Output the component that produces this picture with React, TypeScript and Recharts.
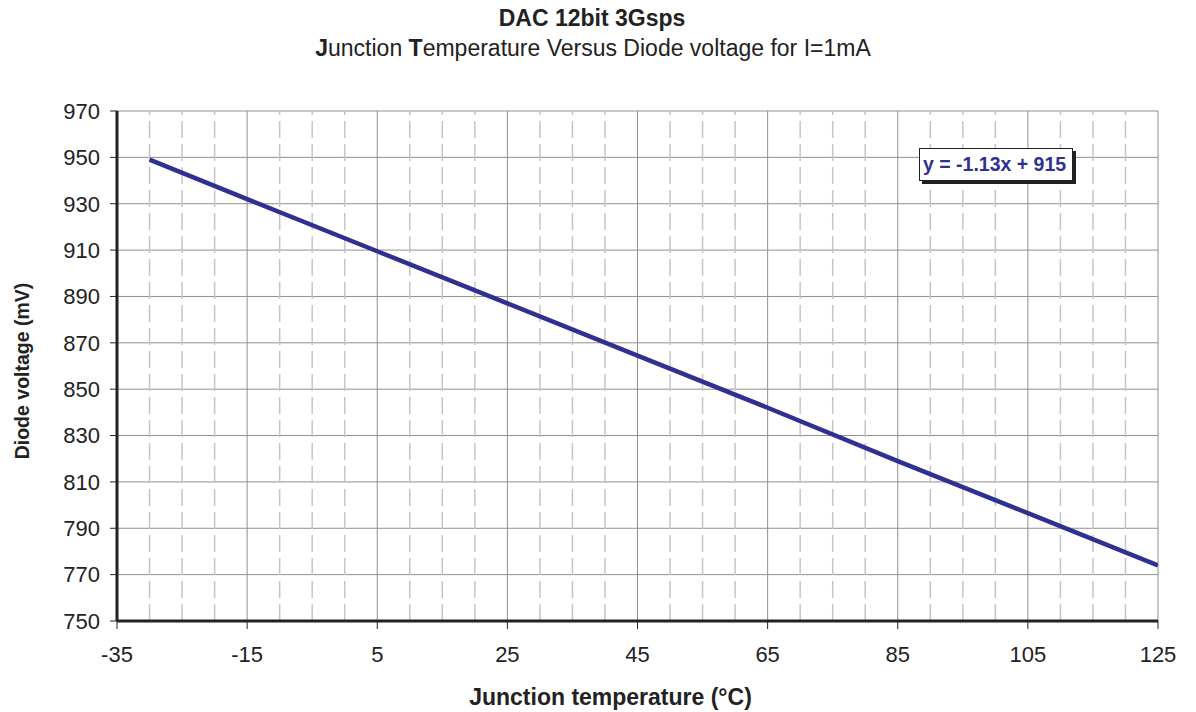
import React from "react"
import { LineChart, Line, XAxis, YAxis, CartesianGrid, ReferenceLine } from "recharts"

// readings: junction temperature (°C) vs diode voltage (mV)
const temps = [-30, -15, 5, 25, 45, 65, 85, 105, 125]
const voltages = [949, 932, 909.5, 887, 864.5, 842, 819, 796.5, 774]

const xTicks = [-35, -15, 5, 25, 45, 65, 85, 105, 125]
const xMinor = [-30, -25, -20, -10, -5, 0, 10, 15, 20, 30, 35, 40, 50, 55, 60, 70, 75, 80, 90, 95, 100, 110, 115, 120]
const yTicks = [750, 770, 790, 810, 830, 850, 870, 890, 910, 930, 950, 970]

const data = temps.map((t, i) => ({ t, v: voltages[i] }))

const FONT = "'Liberation Sans', Arial, sans-serif"
const BLUE = "#2e3192"

export default function App() {
  return (
    <div style={{ position: "absolute", left: 0, top: 0, width: 1196, height: 712, background: "#fff", fontFamily: FONT }}>
      <div style={{ position: "absolute", top: 5, width: 1184, textAlign: "center", fontSize: 23, fontWeight: "bold", color: "#222", lineHeight: "26px" }}>
        DAC 12bit 3Gsps
      </div>
      <div style={{ position: "absolute", top: 35, width: 1186, textAlign: "center", fontSize: 23, color: "#222", lineHeight: "26px" }}>
        <b>J</b>unction <b>T</b>emperature Versus Diode voltage for I=1mA
      </div>

      <LineChart width={1196} height={712} data={data} margin={{ top: 111, right: 38, bottom: 0, left: 0 }}>
        <CartesianGrid stroke="#8f8f8f" strokeWidth={1} vertical={true} horizontal={true} />
        {xMinor.map((x) => (
          <ReferenceLine key={x} x={x} stroke="#c4c4ce" strokeWidth={1.5} strokeDasharray="17 6" />
        ))}
        <XAxis
          dataKey="t"
          type="number"
          domain={[-35, 125]}
          ticks={xTicks}
          allowDataOverflow
          height={91}
          stroke="#222"
          axisLine={{ stroke: "#222", strokeWidth: 3 }}
          tickLine={{ stroke: "#222", strokeWidth: 1 }}
          tickSize={8}
          tickMargin={17}
          tick={{ fontSize: 22, fill: "#222", fontFamily: FONT }}
          label={{ value: "Junction temperature (°C)", position: "insideBottom", offset: 7, dx: -27, fontSize: 23, fontWeight: "bold", fill: "#222", fontFamily: FONT }}
        />
        <XAxis xAxisId="top" orientation="top" type="number" domain={[-35, 125]} height={0} tick={false} tickLine={false} axisLine={{ stroke: "#222", strokeWidth: 3 }} />
        <YAxis
          dataKey="v"
          type="number"
          domain={[750, 970]}
          ticks={yTicks}
          allowDataOverflow
          width={117}
          axisLine={{ stroke: "#222", strokeWidth: 3 }}
          tickLine={{ stroke: "#222", strokeWidth: 1 }}
          tickSize={7}
          tickMargin={10}
          tick={{ fontSize: 22, fill: "#222", fontFamily: FONT }}
          label={{ value: "Diode voltage (mV)", angle: -90, position: "insideLeft", offset: 22, dy: 5, fontSize: 19.5, fontWeight: "bold", fill: "#222", fontFamily: FONT, style: { textAnchor: "middle" } }}
        />
        <YAxis yAxisId="right" orientation="right" type="number" domain={[750, 970]} width={0} tick={false} tickLine={false} axisLine={{ stroke: "#222", strokeWidth: 3 }} />
        <Line dataKey="v" stroke={BLUE} strokeWidth={4.5} dot={false} isAnimationActive={false} />
      </LineChart>

      <div
        style={{
          position: "absolute",
          left: 919,
          top: 148,
          width: 154,
          height: 33,
          boxSizing: "border-box",
          paddingLeft: 3,
          background: "#fff",
          border: "1px solid #222",
          boxShadow: "3px 3px 0 #222",
          color: BLUE,
          fontSize: 19.5,
          fontWeight: "bold",
          lineHeight: "31px",
          whiteSpace: "nowrap",
        }}
      >
        y = -1.13x + 915
      </div>
    </div>
  )
}
